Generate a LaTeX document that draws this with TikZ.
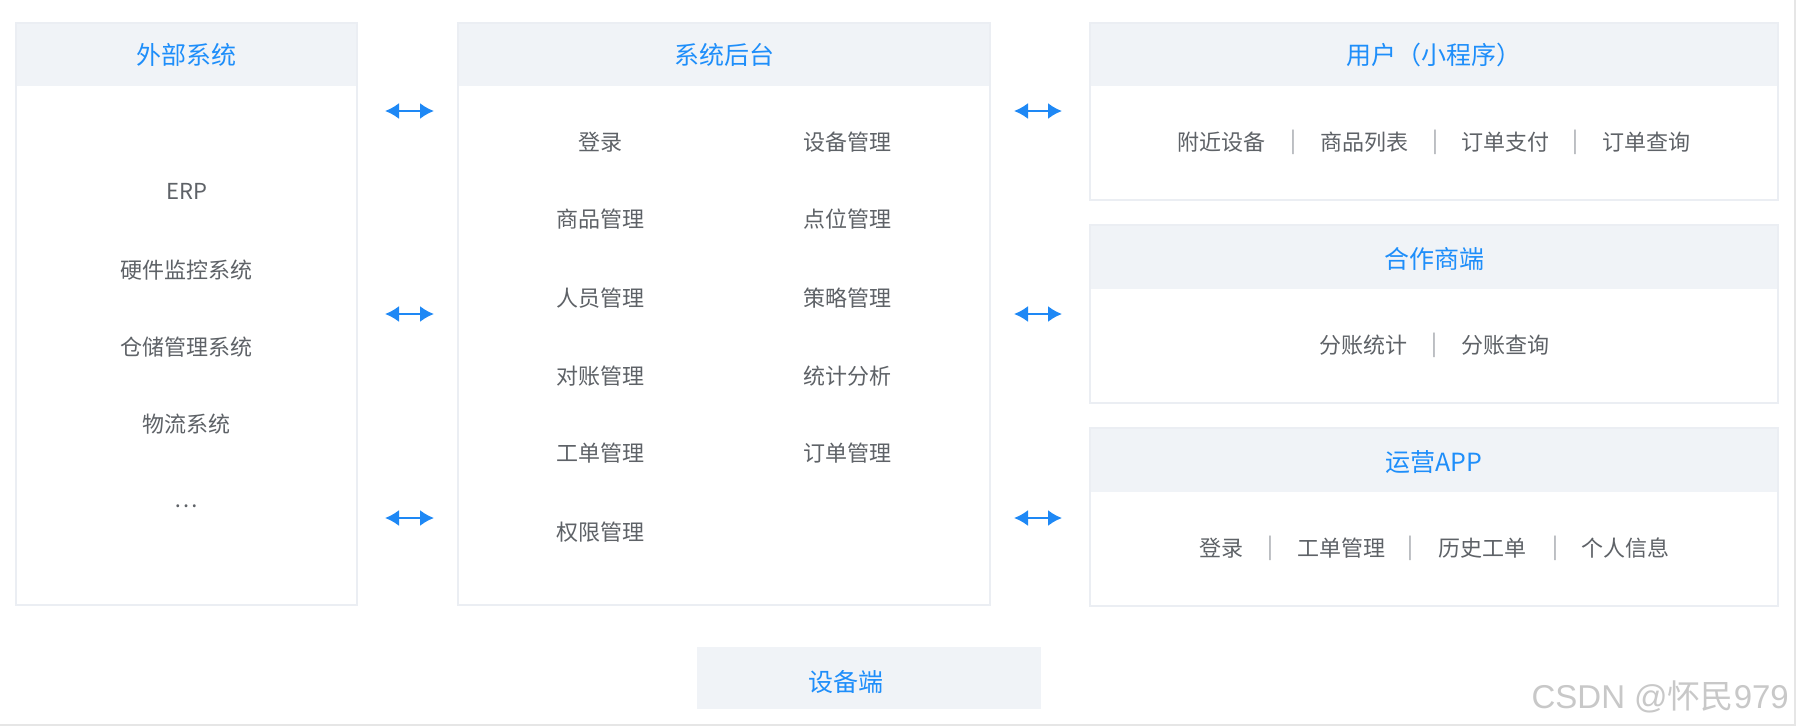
\documentclass[tikz,border=0pt]{standalone}
\usepackage{fontspec}
\setmainfont{Noto Sans CJK SC}
\newfontfamily\wmfont{Liberation Sans}
\usetikzlibrary{arrows.meta}
\definecolor{hdrfill}{HTML}{F0F3F7}
\definecolor{brdcol}{HTML}{EBEEF3}
\definecolor{titlecol}{HTML}{1E8EFA}
\definecolor{itemcol}{HTML}{5E6267}
\definecolor{sepcol}{HTML}{A3A7AC}
\definecolor{arrowcol}{HTML}{1E88F5}
\definecolor{wmcol}{HTML}{C8C8C8}
\definecolor{edgecol}{HTML}{E6E6E6}
\begin{document}
\begin{tikzpicture}[x=1pt,y=-1pt,
  panel/.style={draw=brdcol,line width=1.2pt,anchor=north west,inner sep=0pt,outer sep=0pt},
  header/.style={fill=hdrfill,anchor=north west,inner sep=0pt,outer sep=0pt},
  title/.style={text=titlecol,font=\fontsize{25}{30}\selectfont,inner sep=0pt},
  item/.style={text=itemcol,font=\fontsize{22}{26}\selectfont,inner sep=0pt},
  sepbar/.style={text=sepcol,font=\fontsize{22}{26}\selectfont,inner sep=0pt},
  link/.style={draw=arrowcol,line width=2pt,{Latex[length=14pt,width=16pt]}-{Latex[length=14pt,width=16pt]}},
]
\useasboundingbox (0,0) rectangle (1796,726);
\fill[white] (0,0) rectangle (1796,726);
\draw[edgecol,line width=1.5pt] (0,725) -- (1796,725);
\draw[edgecol,line width=1.5pt] (1795,0) -- (1795,726);

% ---------- left panel: external systems
\node[header,minimum width=341pt,minimum height=63pt] (exth) at (16,23) {};
\node[panel,minimum width=341pt,minimum height=582pt] (ext) at (16,23) {};
\node[title] (extt) at (186.5,55) {外部系统};
\node[item] (erp) at (186.5,191) {ERP};
\node[item] (hw) at (186.5,270) {硬件监控系统};
\node[item] (wms) at (186.5,347) {仓储管理系统};
\node[item] (lgs) at (186.5,424) {物流系统};
\node[item] (more) at (186.5,506) {…};

% ---------- middle panel: back office
\node[header,minimum width=532pt,minimum height=63pt] (midh) at (458,23) {};
\node[panel,minimum width=532pt,minimum height=582pt] (mid) at (458,23) {};
\node[title] (midt) at (724,55) {系统后台};
\node[item] (m11) at (600,142) {登录};
\node[item] (m21) at (600,219) {商品管理};
\node[item] (m31) at (600,298) {人员管理};
\node[item] (m41) at (600,376) {对账管理};
\node[item] (m51) at (600,453) {工单管理};
\node[item] (m61) at (600,532) {权限管理};
\node[item] (m12) at (847,142) {设备管理};
\node[item] (m22) at (847,219) {点位管理};
\node[item] (m32) at (847,298) {策略管理};
\node[item] (m42) at (847,376) {统计分析};
\node[item] (m52) at (847,453) {订单管理};

% ---------- right panel 1: user mini program
\node[header,minimum width=688pt,minimum height=63pt] (r1h) at (1090,23) {};
\node[panel,minimum width=688pt,minimum height=177pt] (r1) at (1090,23) {};
\node[title] (r1t) at (1434,55) {用户（小程序）};
\node[item] (u1) at (1221,142) {附近设备};
\node[sepbar] (us1) at (1293,142) {|};
\node[item] (u2) at (1364,142) {商品列表};
\node[sepbar] (us2) at (1435,142) {|};
\node[item] (u3) at (1505,142) {订单支付};
\node[sepbar] (us3) at (1575,142) {|};
\node[item] (u4) at (1646,142) {订单查询};

% ---------- right panel 2: partner
\node[header,minimum width=688pt,minimum height=64pt] (r2h) at (1090,225) {};
\node[panel,minimum width=688pt,minimum height=178pt] (r2) at (1090,225) {};
\node[title] (r2t) at (1434,259) {合作商端};
\node[item] (p1) at (1363,345) {分账统计};
\node[sepbar] (ps1) at (1434,345) {|};
\node[item] (p2) at (1505,345) {分账查询};

% ---------- right panel 3: operations app
\node[header,minimum width=688pt,minimum height=64pt] (r3h) at (1090,428) {};
\node[panel,minimum width=688pt,minimum height=178pt] (r3) at (1090,428) {};
\node[title] (r3t) at (1434,462) {运营APP};
\node[item] (o1) at (1221,548) {登录};
\node[sepbar] (os1) at (1270,548) {|};
\node[item] (o2) at (1341,548) {工单管理};
\node[sepbar] (os2) at (1410,548) {|};
\node[item] (o3) at (1482,548) {历史工单};
\node[sepbar] (os3) at (1555,548) {|};
\node[item] (o4) at (1625,548) {个人信息};

% ---------- bottom: device side
\node[header,minimum width=344pt,minimum height=62pt] (dev) at (697,647) {};
\node[title] (devt) at (846,682) {设备端};

% ---------- connectors
\coordinate (la1) at (385,111); \coordinate (lb1) at (434,111);
\coordinate (la2) at (385,314); \coordinate (lb2) at (434,314);
\coordinate (la3) at (385,518); \coordinate (lb3) at (434,518);
\coordinate (ra1) at (1014,111); \coordinate (rb1) at (1062,111);
\coordinate (ra2) at (1014,314); \coordinate (rb2) at (1062,314);
\coordinate (ra3) at (1014,518); \coordinate (rb3) at (1062,518);
\draw[link] (la1) -- (lb1);
\draw[link] (la2) -- (lb2);
\draw[link] (la3) -- (lb3);
\draw[link] (ra1) -- (rb1);
\draw[link] (ra2) -- (rb2);
\draw[link] (ra3) -- (rb3);

% ---------- watermark
\node[text=wmcol,inner sep=0pt,anchor=east,font=\fontsize{33}{38}\selectfont] (wm) at (1789,697) {{\wmfont CSDN @}怀民{\wmfont 979}};
\end{tikzpicture}
\end{document}
